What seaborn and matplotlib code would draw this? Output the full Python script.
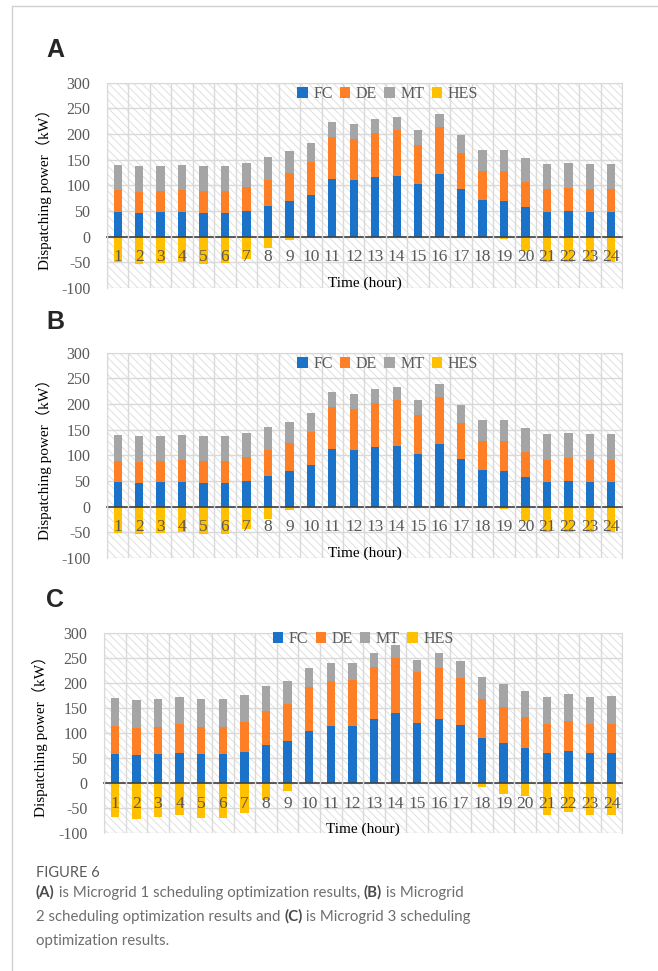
import numpy as np
import pandas as pd
import seaborn as sns
import matplotlib.pyplot as plt
from matplotlib.patches import Patch, Rectangle
from matplotlib.lines import Line2D

# hours of the day
hours = [str(h) for h in range(1, 25)]

# Microgrid 1 (A)
fc_a = [48, 46, 48, 48, 47, 47, 51, 60, 69, 81, 112, 110, 116, 119, 102, 122, 93, 71, 70, 58, 48, 50, 48, 48]
de_a = [42, 41, 41, 43, 42, 42, 45, 50, 55, 64, 83, 80, 86, 89, 76, 92, 71, 57, 58, 48, 44, 45, 44, 44]
mt_a = [49, 50, 49, 49, 49, 49, 48, 45, 42, 37, 29, 30, 27, 25, 29, 26, 34, 41, 41, 47, 49, 48, 49, 49]
hes_a = [-50, -53, -52, -49, -53, -52, -43, -23, -6, 0, 0, 0, 0, 0, 0, 0, 0, -3, -5, -28, -49, -49, -49, -49]

# Microgrid 2 (B)
fc_b = [48, 46, 48, 48, 47, 47, 51, 60, 69, 81, 112, 110, 116, 119, 102, 122, 93, 71, 70, 58, 48, 50, 48, 48]
de_b = [42, 41, 41, 43, 42, 42, 45, 50, 55, 64, 83, 80, 86, 89, 76, 92, 71, 57, 58, 48, 44, 45, 44, 44]
mt_b = [49, 50, 49, 49, 49, 49, 48, 45, 42, 37, 29, 30, 27, 25, 29, 26, 34, 41, 41, 47, 49, 48, 49, 49]
hes_b = [-51, -54, -52, -49, -53, -53, -43, -24, -6, 0, 0, 0, 0, 0, 0, 0, 0, -3, -5, -28, -49, -49, -49, -49]

# Microgrid 3 (C)
fc_c = [58, 56, 58, 60, 58, 58, 62, 76, 85, 105, 113, 114, 128, 139, 119, 128, 115, 90, 81, 70, 60, 64, 60, 60]
de_c = [56, 53, 54, 57, 53, 54, 59, 68, 72, 86, 91, 91, 103, 111, 103, 102, 94, 77, 70, 62, 57, 60, 57, 58]
mt_c = [56, 57, 56, 55, 57, 56, 54, 49, 46, 39, 36, 34, 29, 25, 24, 30, 34, 44, 47, 52, 55, 53, 55, 55]
hes_c = [-67, -72, -68, -64, -70, -69, -60, -33, -15, 0, 0, 0, 0, 0, 0, 0, 0, -8, -21, -26, -64, -58, -64, -63]

series = ['FC', 'DE', 'MT', 'HES']
colors = {'FC': '#1a73c8', 'DE': '#ff7f27', 'MT': '#a5a5a5', 'HES': '#ffc000'}

sns.set_style('white')
plt.rcParams['hatch.color'] = '#dcdcdc'
plt.rcParams['hatch.linewidth'] = 0.6
plt.rcParams['axes.unicode_minus'] = False
serif = ['Liberation Serif', 'Noto Sans CJK SC']


def draw_panel(ax, fc, de, mt, hes, leg_x, leg_y):
    df = pd.DataFrame({'hour': hours, 'FC': fc, 'DE': de, 'MT': mt, 'HES': hes})
    df['de_top'] = df['FC'] + df['DE']
    df['mt_top'] = df['de_top'] + df['MT']

    # hatched plot area
    ax.add_patch(Rectangle((0, 0), 1, 1, transform=ax.transAxes, facecolor='white',
                           edgecolor='#dcdcdc', hatch='\\\\\\\\', lw=0, zorder=0))

    kw = dict(width=0.39, ax=ax, linewidth=0, saturation=1)
    sns.barplot(data=df, x='hour', y='mt_top', color=colors['MT'], zorder=2, **kw)
    sns.barplot(data=df, x='hour', y='de_top', color=colors['DE'], zorder=3, **kw)
    sns.barplot(data=df, x='hour', y='FC', color=colors['FC'], zorder=4, **kw)
    sns.barplot(data=df, x='hour', y='HES', color=colors['HES'], zorder=2, **kw)

    ax.set_xlim(-0.5, 23.5)
    ax.set_ylim(-100, 300)
    ax.set_yticks(np.arange(-100, 301, 50))
    ax.set_xticks(np.arange(-0.5, 24, 1), minor=True)
    ax.grid(False)
    ax.grid(which='major', axis='y', color='#d9d9d9', lw=1)
    ax.grid(which='minor', axis='x', color='#d9d9d9', lw=1)
    ax.set_axisbelow(True)
    ax.xaxis.set_zorder(7)  # hour labels sit on top of the HES bars

    ax.spines['bottom'].set_position(('data', 0))
    ax.spines['bottom'].set_color('#404040')
    ax.spines['bottom'].set_linewidth(1.2)
    ax.spines['bottom'].set_zorder(6)
    for s in ['left', 'right', 'top']:
        ax.spines[s].set_color('#d9d9d9')
    ax.tick_params(axis='both', which='both', length=0)
    ax.tick_params(axis='x', pad=9, labelsize=12.5, labelcolor='#595959')
    ax.tick_params(axis='y', pad=12, labelsize=11.5, labelcolor='#595959')
    for lab in ax.get_xticklabels() + ax.get_yticklabels():
        lab.set_family(serif)

    ax.set_xlabel('Time (hour)', fontsize=11, family=serif, color='black')
    ax.xaxis.set_label_coords(0.5, 0.055)
    ax.set_ylabel('Dispatching power（kW）', fontsize=11, family=serif, color='black')
    ax.yaxis.set_label_coords(-0.107, 0.5)

    handles = [Patch(facecolor=colors[s], edgecolor='none') for s in series]
    leg = ax.legend(handles, series, ncol=4, loc='center', bbox_to_anchor=(leg_x, leg_y),
                    frameon=False, handlelength=0.65, handleheight=0.65, handletextpad=0.35,
                    columnspacing=0.45, prop={'family': serif, 'size': 11.5})
    leg.set_zorder(9)
    for t in leg.get_texts():
        t.set_color('#595959')


fig = plt.figure(figsize=(6.58, 9.71), dpi=100)

ax_a = fig.add_axes([0.1626, 0.7034, 0.7827, 0.2114])
ax_b = fig.add_axes([0.1626, 0.4253, 0.7827, 0.2114])
ax_c = fig.add_axes([0.158, 0.1418, 0.788, 0.2066])

draw_panel(ax_a, fc_a, de_a, mt_a, hes_a, 0.545, 0.945)
draw_panel(ax_b, fc_b, de_b, mt_b, hes_b, 0.545, 0.945)
draw_panel(ax_c, fc_c, de_c, mt_c, hes_c, 0.5, 0.969)

W, H = 658, 971


def px(x, y):
    return x / W, 1 - y / H


for letter, y in [('A', 50), ('B', 322), ('C', 600)]:
    fig.text(*px(46, y), letter, fontsize=18, fontweight='bold', family='Liberation Sans',
             va='center', ha='left')

# outer frame
fig.add_artist(Line2D([12 / W, 12 / W], [0, 1 - 6 / H], transform=fig.transFigure, color='#d0d0d0', lw=1))
fig.add_artist(Line2D([12 / W, 1], [1 - 6 / H, 1 - 6 / H], transform=fig.transFigure, color='#d0d0d0', lw=1))

# caption
fig.text(*px(36, 877), 'FIGURE 6', fontsize=10.5, family='Lato', color='#5a5a5a', va='baseline')

renderer = fig.canvas.get_renderer()


def runs(x, y, parts):
    for s, bold in parts:
        t = fig.text(*px(x, y), s, fontsize=10.8, family='Lato', va='baseline',
                     fontweight='bold' if bold else 'normal',
                     color='#4a4a4a' if bold else '#6e6e6e')
        x += t.get_window_extent(renderer).width


runs(36, 897, [('(A)', True), (' is Microgrid 1 scheduling optimization results, ', False),
               ('(B)', True), (' is Microgrid', False)])
runs(36, 921, [('2 scheduling optimization results and ', False), ('(C)', True),
               (' is Microgrid 3 scheduling', False)])
runs(36, 945, [('optimization results.', False)])

fig.savefig('out.png', dpi=100)
